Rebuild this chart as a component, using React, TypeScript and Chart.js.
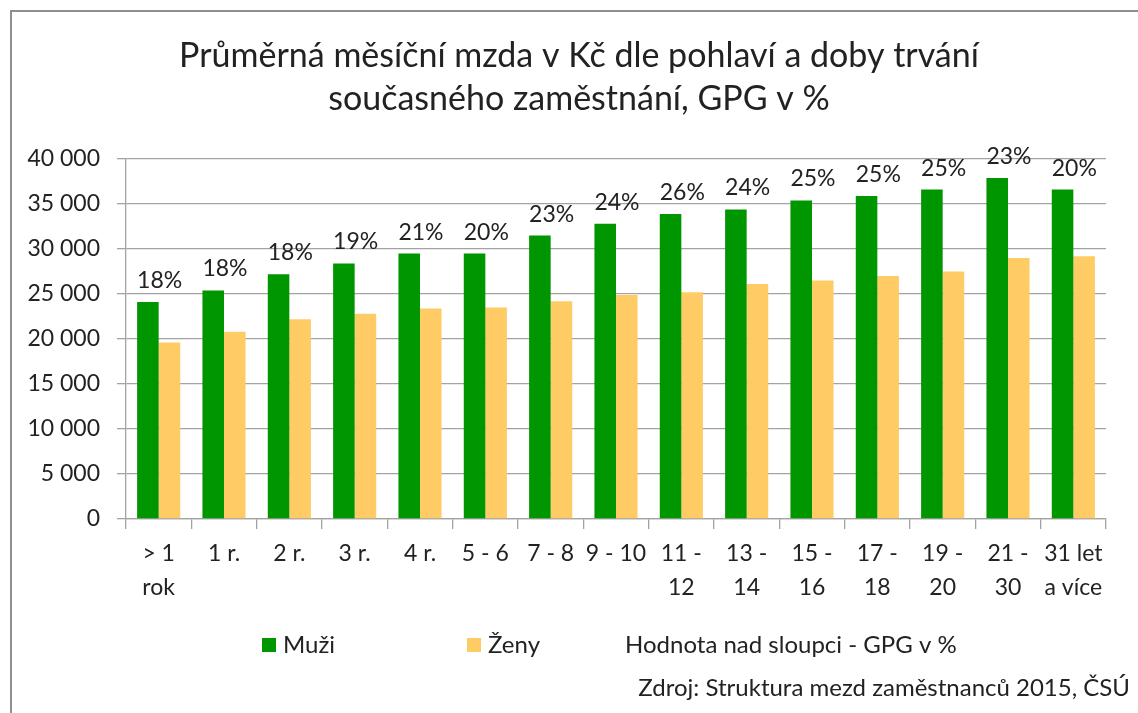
import React, { useEffect, useRef } from "react";
import { Chart, registerables } from "chart.js";

Chart.register(...registerables);

const titleLines = ["Průměrná měsíční mzda v Kč dle pohlaví a doby trvání", "současného zaměstnání, GPG v %"];
const categories: string[][] = [
  ["> 1", "rok"], ["1 r."], ["2 r."], ["3 r."], ["4 r."], ["5 - 6"], ["7 - 8"], ["9 - 10"],
  ["11 -", "12"], ["13 -", "14"], ["15 -", "16"], ["17 -", "18"], ["19 -", "20"], ["21 -", "30"], ["31 let", "a více"],
];
const menWages = [24100, 25400, 27200, 28400, 29500, 29500, 31500, 32800, 33900, 34400, 35400, 35900, 36600, 37900, 36600];
const womenWages = [19600, 20800, 22200, 22800, 23400, 23500, 24200, 24900, 25200, 26100, 26500, 27000, 27500, 29000, 29200];
const gpgLabels = ["18%", "18%", "18%", "19%", "21%", "20%", "23%", "24%", "26%", "24%", "25%", "25%", "25%", "23%", "20%"];
const seriesNames = ["Muži", "Ženy"];
const noteText = "Hodnota nad sloupci - GPG v %";
const sourceText = "Zdroj: Struktura mezd zaměstnanců 2015, ČSÚ";

const FONT = "Lato, 'Liberation Sans', sans-serif";
const GREEN = "#009600";
const YELLOW = "#FFCB65";
const TEXT = "#222222";
const GRID = "#a3a3a3";

const fmt = (v: number) => String(v).replace(/\B(?=(\d{3})+(?!\d))/g, " ");

const decorPlugin = {
  id: "decor",
  beforeDraw(chart: any) {
    const ctx = chart.ctx;
    ctx.save();
    ctx.fillStyle = "#ffffff";
    ctx.fillRect(0, 0, chart.width, chart.height);
    ctx.strokeStyle = "#8f8f8f";
    ctx.lineWidth = 2;
    ctx.beginPath();
    ctx.moveTo(11, chart.height);
    ctx.lineTo(11, 11);
    ctx.lineTo(chart.width, 11);
    ctx.stroke();
    ctx.restore();
  },
  afterDraw(chart: any) {
    const ctx = chart.ctx;
    ctx.save();
    // title
    ctx.fillStyle = TEXT;
    ctx.textAlign = "center";
    ctx.textBaseline = "middle";
    ctx.font = `34px ${FONT}`;
    ctx.fillText(titleLines[0], 579, 56);
    ctx.fillText(titleLines[1], 579, 99);

    // GPG labels above bars
    const meta0 = chart.getDatasetMeta(0);
    const xs = chart.scales.x;
    ctx.font = `23px ${FONT}`;
    ctx.textBaseline = "alphabetic";
    meta0.data.forEach((bar: any, i: number) => {
      const cx = xs.getPixelForValue(i);
      ctx.fillText(gpgLabels[i], cx + 1, bar.y - 14);
    });

    // legend
    const ds = chart.data.datasets;
    const legendPos = [262, 467];
    ctx.font = `24px ${FONT}`;
    ctx.textAlign = "left";
    ctx.textBaseline = "middle";
    ds.forEach((d: any, i: number) => {
      ctx.fillStyle = d.backgroundColor;
      ctx.fillRect(legendPos[i], 638, 14, 14);
      ctx.fillStyle = TEXT;
      ctx.fillText(d.label, legendPos[i] + 21, 645);
    });
    ctx.fillText(noteText, 625, 645);
    ctx.textAlign = "right";
    ctx.fillText(sourceText, 1130, 688);
    ctx.restore();
  },
};

export default function App() {
  const ref = useRef<HTMLCanvasElement>(null);
  useEffect(() => {
    if (!ref.current) return;
    const chart = new Chart(ref.current, {
      type: "bar",
      data: {
        labels: categories,
        datasets: [
          { label: seriesNames[0], data: menWages, backgroundColor: GREEN, categoryPercentage: 0.66, barPercentage: 1 },
          { label: seriesNames[1], data: womenWages, backgroundColor: YELLOW, categoryPercentage: 0.66, barPercentage: 1 },
        ],
      },
      options: {
        responsive: false,
        animation: false,
        layout: { padding: { left: 0, right: 32, top: 159, bottom: 0 } },
        plugins: { legend: { display: false }, title: { display: false }, tooltip: { enabled: false } },
        scales: {
          x: {
            grid: { drawOnChartArea: false, drawTicks: true, tickLength: 10, color: GRID, lineWidth: 1.3, offset: true },
            border: { color: GRID, width: 1.3 },
            ticks: { font: { family: FONT, size: 23, lineHeight: 1.48 }, color: TEXT, padding: 8, maxRotation: 0, autoSkip: false },
            afterFit: (s: any) => { s.height = 713 - 519; },
          },
          y: {
            min: 0,
            max: 40000,
            ticks: { stepSize: 5000, callback: (v: any) => fmt(Number(v)), font: { family: FONT, size: 23 }, color: TEXT, padding: 17 },
            grid: { color: GRID, lineWidth: 1.3, tickLength: 9 },
            border: { color: GRID, width: 1.3 },
            afterFit: (s: any) => { s.width = 126; },
          },
        },
      },
      plugins: [decorPlugin],
    } as any);
    return () => chart.destroy();
  }, []);
  return (
    <div style={{ position: "fixed", left: 0, top: 0, width: 1138, height: 713 }}>
      <canvas ref={ref} width={1138} height={713} style={{ width: 1138, height: 713, display: "block" }} />
    </div>
  );
}
